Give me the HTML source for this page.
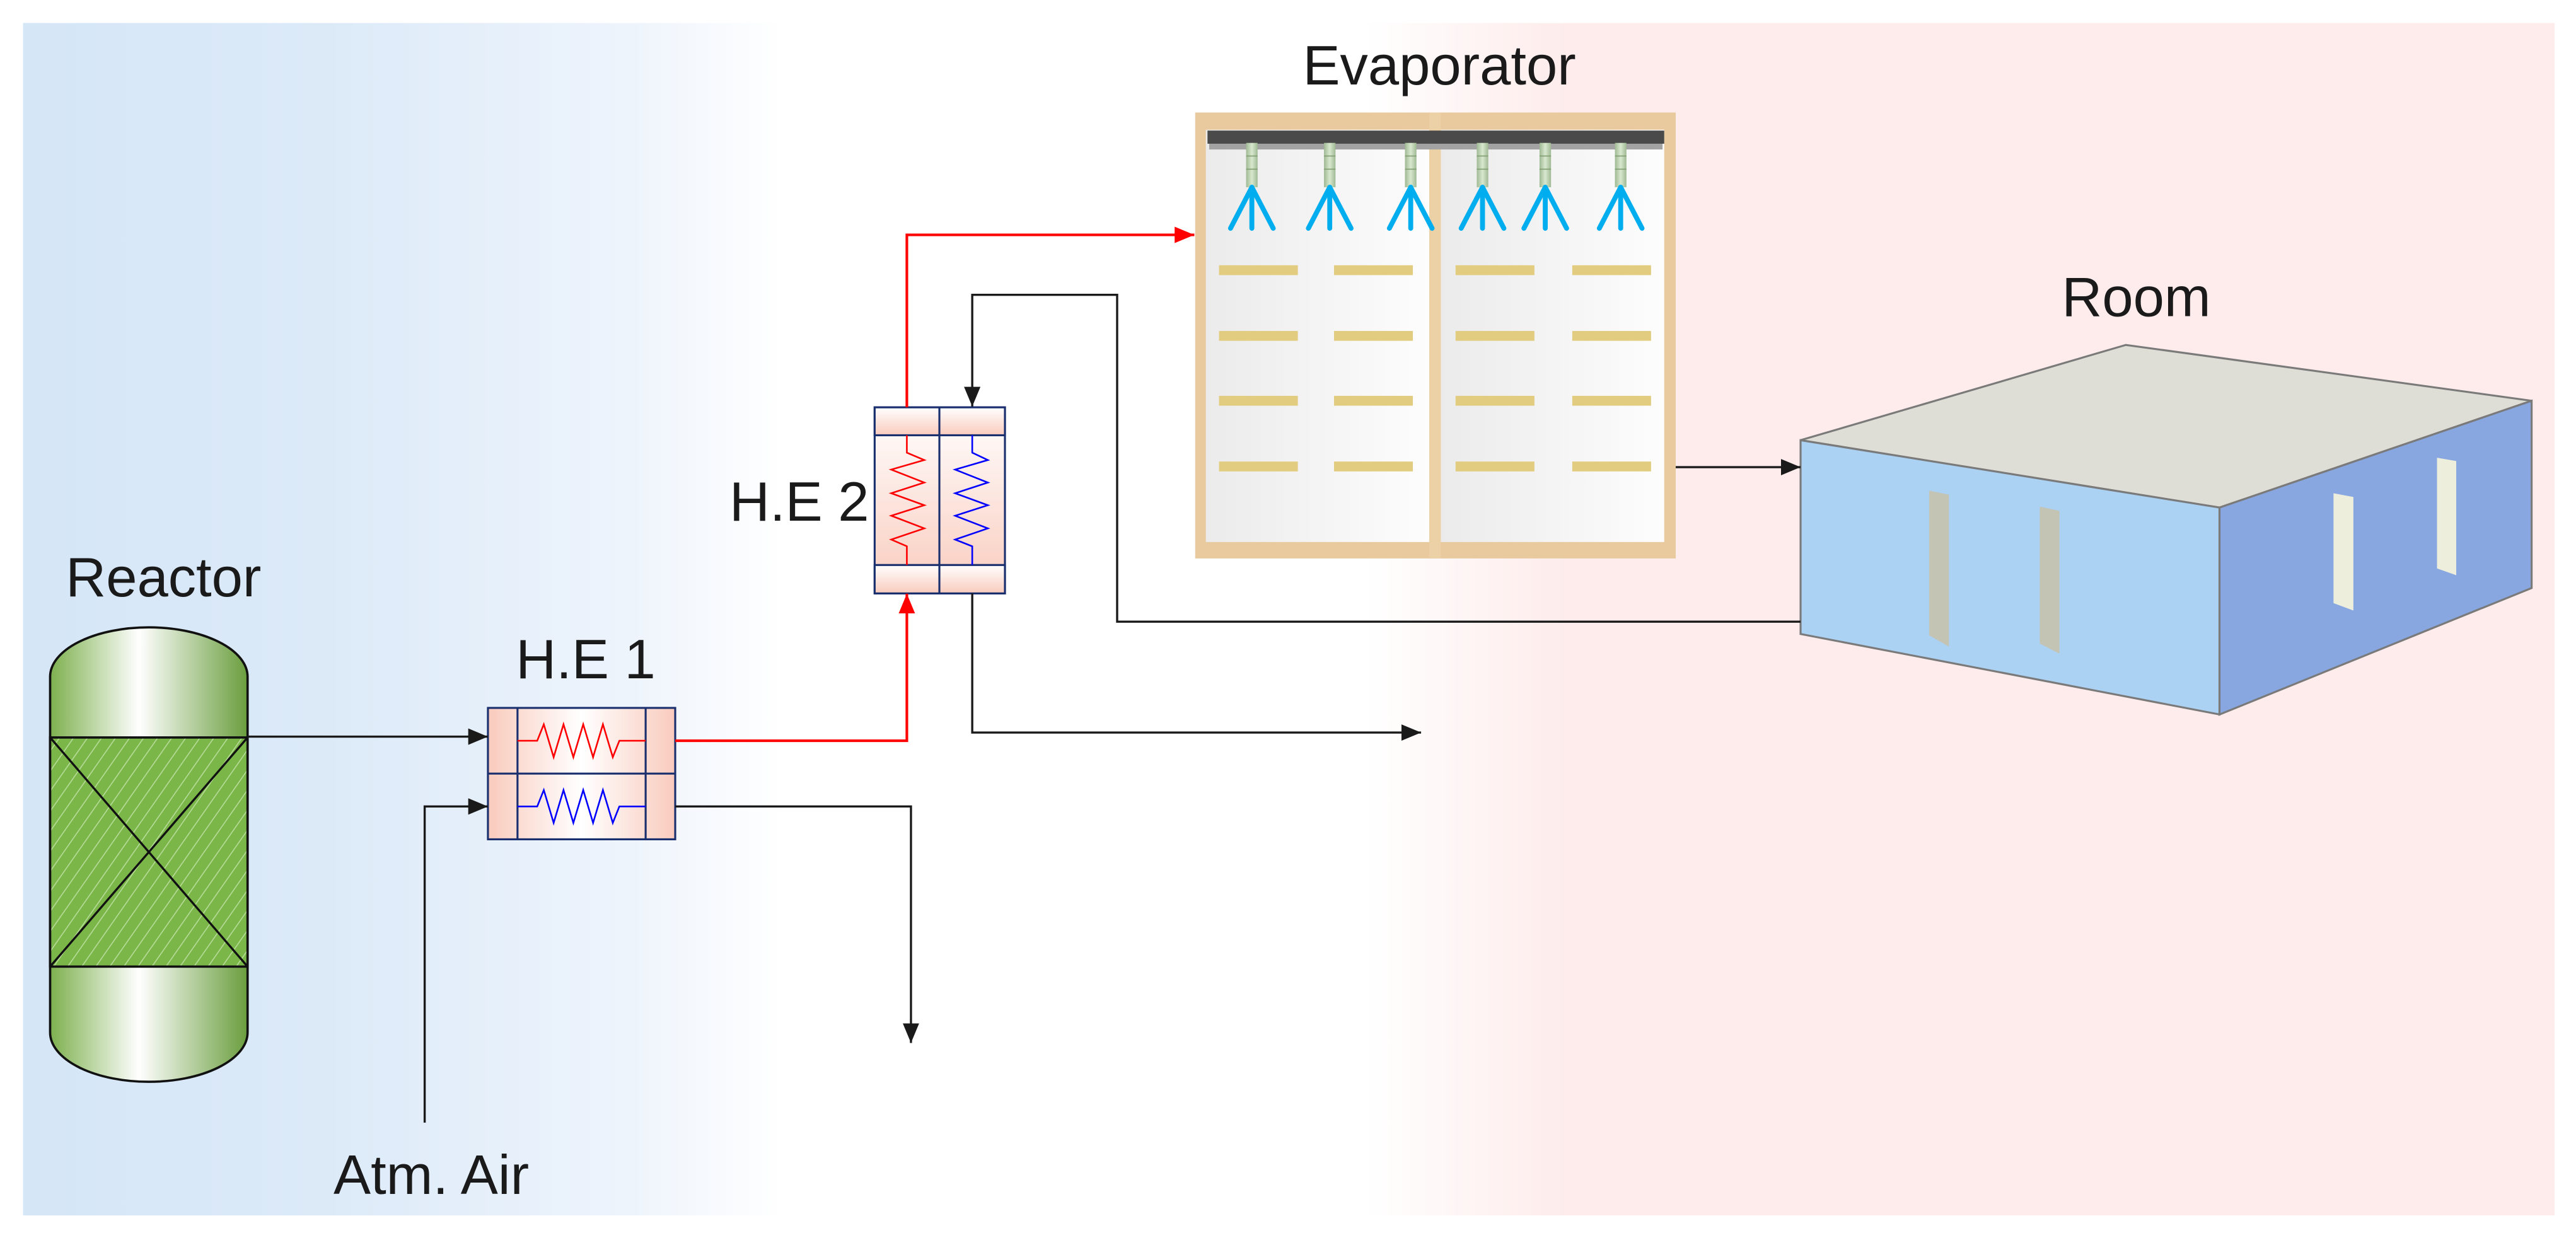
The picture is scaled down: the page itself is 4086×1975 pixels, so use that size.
<!DOCTYPE html>
<html><head><meta charset="utf-8"><style>
html,body{margin:0;padding:0;background:#fff;}
svg{display:block;}
text{font-family:"Liberation Sans",Arial,sans-serif;fill:#1a1a1a;}
</style></head><body>
<svg width="4086" height="1975" viewBox="0 0 1568 758" preserveAspectRatio="none" xmlns="http://www.w3.org/2000/svg">
<defs>
<linearGradient id="bg" x1="14" y1="0" x2="1555" y2="0" gradientUnits="userSpaceOnUse">
<stop offset="0" stop-color="#d5e6f7"/><stop offset="0.12" stop-color="#dceaf8"/><stop offset="0.24" stop-color="#eef4fc"/><stop offset="0.3" stop-color="#ffffff"/><stop offset="0.53" stop-color="#ffffff"/><stop offset="0.61" stop-color="#fdeceb"/><stop offset="1" stop-color="#fdeceb"/>
</linearGradient>
<linearGradient id="green" x1="0" y1="0" x2="1" y2="0">
<stop offset="0" stop-color="#7db04e"/><stop offset="0.45" stop-color="#ffffff"/><stop offset="1" stop-color="#6a9e3e"/>
</linearGradient>
<pattern id="hatch" width="7" height="7" patternUnits="userSpaceOnUse" patternTransform="rotate(35)">
<rect width="7" height="7" fill="#7ab648"/><line x1="0" y1="0" x2="0" y2="7" stroke="#b8dc9a" stroke-width="1.2"/>
</pattern>
<linearGradient id="pinkv" x1="0" y1="0" x2="0" y2="1">
<stop offset="0" stop-color="#ffffff"/><stop offset="1" stop-color="#f9cbbd"/>
</linearGradient>
<linearGradient id="pinkh" x1="0" y1="0" x2="1" y2="0">
<stop offset="0" stop-color="#f9cbbd"/><stop offset="0.5" stop-color="#ffffff"/><stop offset="1" stop-color="#f9cbbd"/>
</linearGradient>
<linearGradient id="panel" x1="0" y1="0" x2="1" y2="0">
<stop offset="0" stop-color="#ebebeb"/><stop offset="1" stop-color="#fdfdfd"/>
</linearGradient>
<linearGradient id="stem" x1="0" y1="0" x2="1" y2="0">
<stop offset="0" stop-color="#9fb993"/><stop offset="0.5" stop-color="#d8e8cf"/><stop offset="1" stop-color="#9fb993"/>
</linearGradient>
<marker id="ab" markerWidth="12" markerHeight="10" refX="12" refY="5" orient="auto" markerUnits="userSpaceOnUse"><path d="M0,0 L12,5 L0,10 Z" fill="#1a1a1a"/></marker>
<marker id="ar" markerWidth="12" markerHeight="10" refX="12" refY="5" orient="auto" markerUnits="userSpaceOnUse"><path d="M0,0 L12,5 L0,10 Z" fill="#ff0000"/></marker>
<g id="noz">
<rect x="-3.5" y="87" width="7" height="27" fill="url(#stem)"/>
<line x1="-3.5" y1="95" x2="3.5" y2="95" stroke="#7c9a6c" stroke-width="0.6"/>
<line x1="-3.5" y1="103" x2="3.5" y2="103" stroke="#7c9a6c" stroke-width="0.6"/>
<g stroke="#00aeef" stroke-width="3" fill="none" stroke-linecap="round"><line x1="0" y1="114" x2="0" y2="139"/><line x1="0" y1="114" x2="-13" y2="139"/><line x1="0" y1="114" x2="13" y2="139"/></g>
</g>
</defs>
<rect x="14" y="14" width="1541" height="726" fill="url(#bg)"/>

<!-- Reactor -->
<path d="M30.5,412 A60,30 0 0 1 150.7,412 V628.6 A60,30 0 0 1 30.5,628.6 Z" fill="url(#green)" stroke="#111" stroke-width="1.4"/>
<rect x="30.5" y="449" width="120.2" height="139.5" fill="url(#hatch)" stroke="#111" stroke-width="1.4"/>
<line x1="30.5" y1="449" x2="150.7" y2="588.5" stroke="#111" stroke-width="1.3"/>
<line x1="150.7" y1="449" x2="30.5" y2="588.5" stroke="#111" stroke-width="1.3"/>
<text x="40" y="363" font-size="34">Reactor</text>

<!-- HE1 -->
<rect x="297" y="431" width="114" height="80" fill="url(#pinkh)" stroke="#1a2f6e" stroke-width="1.2"/>
<line x1="297" y1="471" x2="411" y2="471" stroke="#1a2f6e" stroke-width="1.2"/>
<line x1="315" y1="431" x2="315" y2="511" stroke="#1a2f6e" stroke-width="1.2"/>
<line x1="393" y1="431" x2="393" y2="511" stroke="#1a2f6e" stroke-width="1.2"/>
<polyline points="315,451 327,451 331,441 337,461 343,441 349,461 355,441 361,461 367,441 373,461 377,451 393,451" fill="none" stroke="#ff0000" stroke-width="1"/>
<polyline points="315,491 327,491 331,481 337,501 343,481 349,501 355,481 361,501 367,481 373,501 377,491 393,491" fill="none" stroke="#0000ff" stroke-width="1"/>
<text x="314" y="413" font-size="34">H.E 1</text>

<!-- HE2 -->
<rect x="532.4" y="248" width="79.3" height="113.3" fill="url(#pinkv)" stroke="#1a2f6e" stroke-width="1.2"/>
<rect x="532.4" y="248" width="79.3" height="17" fill="url(#pinkv)" stroke="#1a2f6e" stroke-width="1.2"/>
<rect x="532.4" y="344" width="79.3" height="17.3" fill="url(#pinkv)" stroke="#1a2f6e" stroke-width="1.2"/>
<line x1="571.8" y1="248" x2="571.8" y2="361.3" stroke="#1a2f6e" stroke-width="1.2"/>
<polyline points="552,265 552,275.6 562.6,280.1 542.5,285.9 562.6,293.8 542.5,300.3 562.6,307.6 542.5,314 562.6,321.7 542.5,328.5 552,332.6 552,344" fill="none" stroke="#ff0000" stroke-width="1"/>
<polyline points="591.8,265 591.8,275.6 601.3,280.1 581.4,285.9 601.3,293.8 581.4,300.3 601.3,307.6 581.4,314 601.3,321.7 581.4,328.5 591.8,332.6 591.8,344" fill="none" stroke="#0000ff" stroke-width="1"/>
<text x="444" y="317" font-size="34">H.E 2</text>

<!-- Evaporator -->
<rect x="727.5" y="68.5" width="292.5" height="271.5" fill="#e8ca9e"/>
<rect x="734" y="79" width="136" height="251" fill="url(#panel)"/>
<rect x="877" y="79" width="136" height="251" fill="url(#panel)"/>
<rect x="870" y="68.5" width="7" height="271.5" fill="#ecd0a6"/>
<rect x="735" y="79.5" width="278" height="8" fill="#4a4a4a"/>
<rect x="736" y="87.5" width="276" height="3.5" fill="#a3a3a3"/>
<use href="#noz" x="762"/><use href="#noz" x="809.4"/><use href="#noz" x="858.7"/><use href="#noz" x="902.4"/><use href="#noz" x="940.6"/><use href="#noz" x="986.5"/>
<g fill="#e2cc80">
<rect x="742" y="161.5" width="48" height="6"/><rect x="812" y="161.5" width="48" height="6"/><rect x="886" y="161.5" width="48" height="6"/><rect x="957" y="161.5" width="48" height="6"/>
<rect x="742" y="201.5" width="48" height="6"/><rect x="812" y="201.5" width="48" height="6"/><rect x="886" y="201.5" width="48" height="6"/><rect x="957" y="201.5" width="48" height="6"/>
<rect x="742" y="241" width="48" height="6"/><rect x="812" y="241" width="48" height="6"/><rect x="886" y="241" width="48" height="6"/><rect x="957" y="241" width="48" height="6"/>
<rect x="742" y="281" width="48" height="6"/><rect x="812" y="281" width="48" height="6"/><rect x="886" y="281" width="48" height="6"/><rect x="957" y="281" width="48" height="6"/>
</g>
<text x="793" y="51.5" font-size="34">Evaporator</text>

<!-- Room -->
<polygon points="1096,268 1294,210 1541,244 1351,309" fill="#dfded6" stroke="#7a7a7a" stroke-width="1.2"/>
<polygon points="1096,268 1351,309 1351,435 1096,386" fill="#abd1f3" stroke="#7a7a7a" stroke-width="1.2"/>
<polygon points="1351,309 1541,244 1541,358 1351,435" fill="#88a7e0" stroke="#7a7a7a" stroke-width="1.2"/>
<polygon points="1174.3,298.7 1186.3,301.2 1186.3,393.7 1174.3,386.8" fill="#c4c4b4"/>
<polygon points="1241.6,308.5 1253.6,311 1253.6,398 1241.6,391.8" fill="#c4c4b4"/>
<polygon points="1420.4,300.3 1432.5,302.6 1432.5,371.7 1420.4,367.2" fill="#eeeedc"/>
<polygon points="1483.4,278.7 1495.1,280.7 1495.1,350.2 1483.4,346.1" fill="#eeeedc"/>
<text x="1255" y="192.5" font-size="34">Room</text>

<!-- Connectors -->
<g fill="none" stroke="#1a1a1a" stroke-width="1.3">
<line x1="150.7" y1="448.5" x2="297" y2="448.5" marker-end="url(#ab)"/>
<polyline points="258.5,683.5 258.5,491 297,491" marker-end="url(#ab)"/>
<polyline points="411,491 554.5,491 554.5,635" marker-end="url(#ab)"/>
<polyline points="591.8,361.3 591.8,446 865,446" marker-end="url(#ab)"/>
<polyline points="1096,378.5 680,378.5 680,179.5 591.8,179.5 591.8,247.5" marker-end="url(#ab)"/>
<line x1="1020" y1="284.4" x2="1096" y2="284.4" marker-end="url(#ab)"/>
</g>
<g fill="none" stroke="#ff0000" stroke-width="1.6">
<polyline points="411,451 552,451 552,361.5" marker-end="url(#ar)"/>
<polyline points="552,248 552,143 727,143" marker-end="url(#ar)"/>
</g>
<text x="203" y="727" font-size="34">Atm. Air</text>
</svg>
</body></html>
